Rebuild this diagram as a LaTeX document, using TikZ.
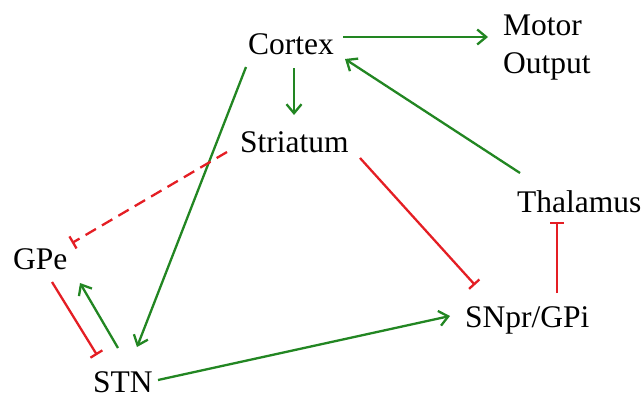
\documentclass[tikz,border=0pt]{standalone}
\usepackage{fontspec}
\setmainfont{Liberation Serif}
\usetikzlibrary{arrows.meta}
\definecolor{exc}{RGB}{34,134,34}
\definecolor{inh}{RGB}{228,30,36}
\begin{document}
\begin{tikzpicture}[x=1pt,y=-1pt,
  lbl/.style={anchor=base west,inner sep=0pt,font=\fontsize{31.5}{37}\selectfont},
  excite/.style={draw=exc,line width=2.3pt,-{Straight Barb[length=9pt,width=15pt,line width=2.3pt]}},
  inhibit/.style={draw=inh,line width=2.3pt,-{Bar[width=14pt,line width=2.3pt]}},
  inhdash/.style={inhibit,dash pattern=on 12pt off 7pt}]
\useasboundingbox (0,0) rectangle (644,396);
\node[lbl] (cortex) at (248,54) {Cortex};
\node[lbl] (motor) at (503,36) {\begin{tabular}[t]{@{}l@{}}Motor\\Output\end{tabular}};
\node[lbl] (striatum) at (240,152) {Striatum};
\node[lbl] (thalamus) at (517,212) {Thalamus};
\node[lbl] (snpr) at (465,327) {SNpr/GPi};
\node[lbl] (gpe) at (13,269) {GPe};
\node[lbl] (stn) at (93,392) {STN};
% excitatory
\draw[excite] ([shift={(95,-17)}]cortex.base west) -- ([shift={(-15,1)}]motor.base west);
\draw[excite] ([shift={(46,14)}]cortex.base west) -- ([shift={(54,-37)}]striatum.base west);
\draw[excite] ([shift={(3,-39)}]thalamus.base west) -- ([shift={(97,5)}]cortex.base west);
\draw[excite] ([shift={(-2,13)}]cortex.base west) -- ([shift={(44,-45)}]stn.base west);
\draw[excite] ([shift={(25,-44)}]stn.base west) -- ([shift={(67,14)}]gpe.base west);
\draw[excite] ([shift={(65,-12)}]stn.base west) -- ([shift={(-15,-11)}]snpr.base west);
% inhibitory
\draw[inhdash] ([shift={(-13,0)}]striatum.base west) -- ([shift={(59,-26)}]gpe.base west);
\draw[inhibit] ([shift={(120,6)}]striatum.base west) -- ([shift={(10,-42)}]snpr.base west);
\draw[inhibit] ([shift={(92,-34)}]snpr.base west) -- ([shift={(40,10)}]thalamus.base west);
\draw[inhibit] ([shift={(39,13)}]gpe.base west) -- ([shift={(4,-37)}]stn.base west);
\end{tikzpicture}
\end{document}
